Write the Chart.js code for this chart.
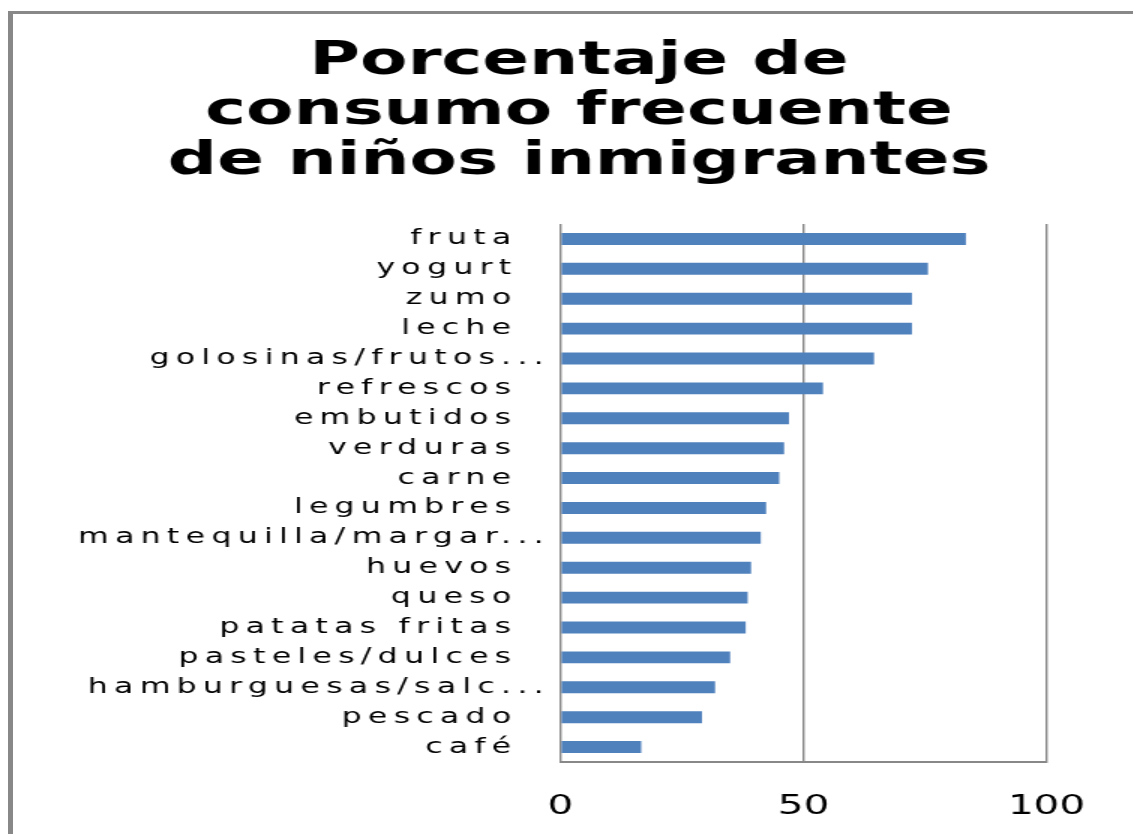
<!DOCTYPE html>
<html><head><meta charset="utf-8">
<script src="https://cdn.jsdelivr.net/npm/chart.js@4.4.0/dist/chart.umd.min.js"></script>
<style>
html,body{margin:0;padding:0;background:#fff;overflow:hidden;width:1133px;height:834px;}
#frame{position:absolute;left:8px;top:11px;width:1300px;height:1000px;border-left:5px solid #888;border-top:3px solid #888;}
#wrap{position:absolute;left:0;top:0;width:772px;height:834px;transform:scaleX(1.5);transform-origin:0 0;}
</style></head>
<body>
<div id="frame"></div>
<div id="wrap"><canvas id="c" width="772" height="834"></canvas></div>
<script>
const categories = ['fruta','yogurt','zumo','leche','golosinas/frutos...','refrescos','embutidos','verduras','carne','legumbres','mantequilla/margar...','huevos','queso','patatas fritas','pasteles/dulces','hamburguesas/salc...','pescado','café'];
const values = [83.4,75.6,72.3,72.3,64.5,54,47,46,45,42.3,41.2,39.2,38.5,38.1,34.9,31.8,29.1,16.6];
const xTicks = [0,50,100];
const titleLines = ['Porcentaje de','consumo frecuente','de niños inmigrantes'];

const spacingPlugin = {
  id:'spacing',
  afterLayout(chart){ if (chart.titleBlock) { chart.titleBlock.left = 0; chart.titleBlock.right = chart.width; chart.titleBlock.width = chart.width; } },
  afterDatasetsDraw(chart){ chart.ctx.letterSpacing = '4.2px'; },
  afterDraw(chart){ chart.ctx.letterSpacing = '0px'; }
};

new Chart(document.getElementById('c'), {
  type:'bar',
  data:{ labels:categories, datasets:[{ data:values, backgroundColor:'#4F81BD', borderWidth:0, categoryPercentage:1, barPercentage:0.4 }]},
  options:{
    indexAxis:'y', responsive:false, animation:false, devicePixelRatio:1,
    layout:{ padding:{ left:0, right:74.3, top:0, bottom:0 } },
    plugins:{
      legend:{display:false}, tooltip:{enabled:false},
      title:{ display:true, text:titleLines, color:'#000', font:{family:'DejaVu Sans', size:46, weight:'bold', lineHeight:1.087}, padding:{top:37,bottom:37} }
    },
    scales:{
      x:{ min:0, max:100, afterBuildTicks(s){ s.ticks = xTicks.map(v=>({value:v})); },
          afterFit(s){ s.height = 72; },
          grid:{ color:'#888', lineWidth:1.4, drawTicks:false },
          border:{ display:true, color:'#888', width:2 },
          ticks:{ color:'#000', font:{family:'DejaVu Sans', size:27}, padding:29, maxRotation:0 } },
      y:{ afterFit(s){ s.width = 373.7; },
          grid:{ display:false, drawTicks:false },
          border:{ display:false },
          ticks:{ z:1, color:'#000', font:{family:'DejaVu Sans', size:21}, padding:7, autoSkip:false,
                  callback(v){ const l = categories[v]; return l.endsWith('...') ? l : l + '  '; } } }
    }
  },
  plugins:[spacingPlugin]
});
</script>
</body></html>
